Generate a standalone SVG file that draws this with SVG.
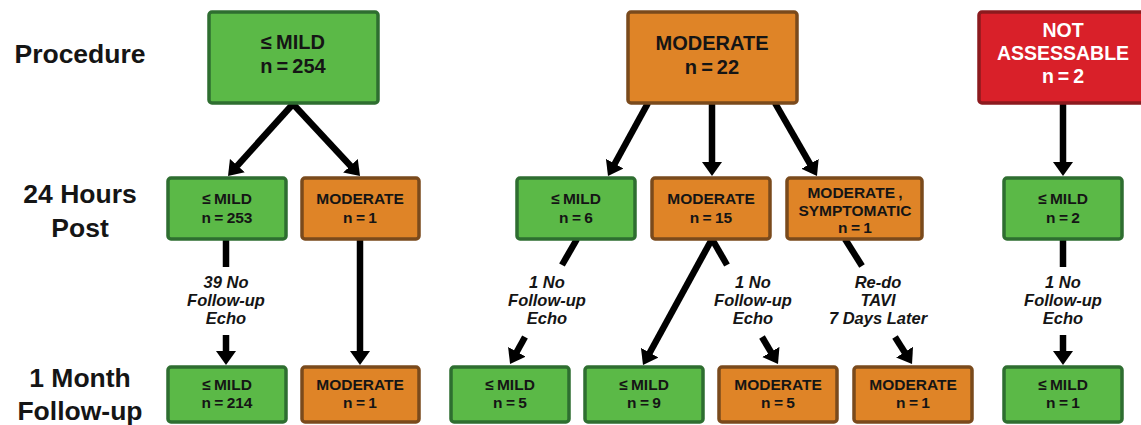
<svg xmlns="http://www.w3.org/2000/svg" width="1141" height="425" viewBox="0 0 1141 425">
<style>
.g{fill:#5BB947;stroke:#2E6E30;stroke-width:3.5}
.o{fill:#DF8427;stroke:#7A4A1C;stroke-width:3.5}
.r{fill:#D92029;stroke:#8C1A1E;stroke-width:3.5}
text{font-family:"Liberation Sans",Arial,sans-serif;font-weight:bold;fill:#151515;text-anchor:middle}
.row{font-size:26.5px}
.big{font-size:20px;word-spacing:-1.5px}
.mid{font-size:15.5px;word-spacing:-1px}
.wt{fill:#fff;font-size:19.5px;word-spacing:-1.5px}
.lab{font-size:16.5px;font-style:italic}
.c line{stroke:#000;stroke-width:6.5}
.c line.a{marker-end:url(#ah)}
</style>
<defs>
<marker id="ah" markerUnits="userSpaceOnUse" markerWidth="15" markerHeight="21" refX="4" refY="10" orient="auto" viewBox="0 0 15 21">
<path d="M0,0 L14,10 L0,20 z" fill="#000"/>
</marker>
</defs>
<rect width="1141" height="425" fill="#fff"/>

<g id="row-labels">
<text class="row" x="80" y="63">Procedure</text>
<text class="row" x="80" y="203">24 Hours</text>
<text class="row" x="80" y="237">Post</text>
<text class="row" x="80" y="387">1 Month</text>
<text class="row" x="80" y="420">Follow-up</text>
</g>

<g id="connectors" class="c">
<line class="a" x1="293" y1="104" x2="234.7" y2="168.6"/>
<line class="a" x1="293" y1="104" x2="353.2" y2="168.7"/>
<line x1="226" y1="239" x2="226" y2="267"/>
<line class="a" x1="226" y1="335" x2="226" y2="355"/>
<line class="a" x1="360" y1="239" x2="360" y2="355"/>
<line class="a" x1="648" y1="103" x2="612.8" y2="167.2"/>
<line class="a" x1="712" y1="103" x2="712" y2="166"/>
<line class="a" x1="775" y1="103" x2="812" y2="167.3"/>
<line x1="577" y1="239" x2="562" y2="265"/>
<line class="a" x1="525" y1="337" x2="514.9" y2="355.3"/>
<line class="a" x1="712" y1="239" x2="647.8" y2="356.2"/>
<line x1="712" y1="239" x2="727" y2="265"/>
<line class="a" x1="762" y1="337" x2="772.9" y2="355.4"/>
<line x1="845" y1="239" x2="862" y2="266"/>
<line class="a" x1="895" y1="337" x2="906.7" y2="355.5"/>
<line class="a" x1="1063" y1="103" x2="1063" y2="166"/>
<line x1="1063" y1="239" x2="1063" y2="267"/>
<line class="a" x1="1063" y1="335" x2="1063" y2="355"/>
</g>

<g id="edge-labels">
<text class="lab"><tspan x="226" y="288">39 No</tspan><tspan x="226" y="306">Follow-up</tspan><tspan x="226" y="324">Echo</tspan></text>
<text class="lab"><tspan x="547" y="288">1 No</tspan><tspan x="547" y="306">Follow-up</tspan><tspan x="547" y="324">Echo</tspan></text>
<text class="lab"><tspan x="753" y="288">1 No</tspan><tspan x="753" y="306">Follow-up</tspan><tspan x="753" y="324">Echo</tspan></text>
<text class="lab"><tspan x="878" y="288">Re-do</tspan><tspan x="878" y="306">TAVI</tspan><tspan x="878" y="324">7 Days Later</tspan></text>
<text class="lab"><tspan x="1063" y="288">1 No</tspan><tspan x="1063" y="306">Follow-up</tspan><tspan x="1063" y="324">Echo</tspan></text>
</g>

<g id="proc-mild">
<rect class="g" x="209" y="12" width="169" height="91" rx="3"/>
<text class="big" x="293" y="49">≤ MILD</text>
<text class="big" x="293" y="73">n = 254</text>
</g>
<g id="proc-moderate">
<rect class="o" x="628" y="12" width="169" height="91" rx="3"/>
<text class="big" x="712" y="50">MODERATE</text>
<text class="big" x="712" y="74">n = 22</text>
</g>
<g id="proc-na">
<rect class="r" x="979" y="12" width="166" height="91" rx="3"/>
<text class="wt" x="1063" y="37">NOT</text>
<text class="wt" x="1063" y="60">ASSESSABLE</text>
<text class="wt" x="1063" y="83">n = 2</text>
</g>

<g id="h24-mild-a">
<rect class="g" x="168" y="178" width="118" height="61" rx="3"/>
<text class="mid" x="227" y="204">≤ MILD</text>
<text class="mid" x="227" y="223">n = 253</text>
</g>
<g id="h24-mod-a">
<rect class="o" x="302" y="178" width="117" height="61" rx="3"/>
<text class="mid" x="360" y="204">MODERATE</text>
<text class="mid" x="360" y="223">n = 1</text>
</g>
<g id="h24-mild-b">
<rect class="g" x="517" y="178" width="118" height="61" rx="3"/>
<text class="mid" x="576" y="204">≤ MILD</text>
<text class="mid" x="576" y="223">n = 6</text>
</g>
<g id="h24-mod-b">
<rect class="o" x="652" y="178" width="118" height="61" rx="3"/>
<text class="mid" x="711" y="204">MODERATE</text>
<text class="mid" x="711" y="223">n = 15</text>
</g>
<g id="h24-mod-symp">
<rect class="o" x="787" y="178" width="135" height="61" rx="3"/>
<text class="mid" x="855" y="198">MODERATE ,</text>
<text class="mid" x="855" y="216">SYMPTOMATIC</text>
<text class="mid" x="855" y="233">n = 1</text>
</g>
<g id="h24-mild-c">
<rect class="g" x="1004" y="178" width="118" height="61" rx="3"/>
<text class="mid" x="1063" y="204">≤ MILD</text>
<text class="mid" x="1063" y="223">n = 2</text>
</g>

<g id="m1-mild-a">
<rect class="g" x="168" y="367" width="118" height="55" rx="3"/>
<text class="mid" x="227" y="390">≤ MILD</text>
<text class="mid" x="227" y="408">n = 214</text>
</g>
<g id="m1-mod-a">
<rect class="o" x="302" y="367" width="117" height="55" rx="3"/>
<text class="mid" x="360" y="390">MODERATE</text>
<text class="mid" x="360" y="408">n = 1</text>
</g>
<g id="m1-mild-b">
<rect class="g" x="451" y="367" width="118" height="55" rx="3"/>
<text class="mid" x="510" y="390">≤ MILD</text>
<text class="mid" x="510" y="408">n = 5</text>
</g>
<g id="m1-mild-c">
<rect class="g" x="585" y="367" width="118" height="55" rx="3"/>
<text class="mid" x="644" y="390">≤ MILD</text>
<text class="mid" x="644" y="408">n = 9</text>
</g>
<g id="m1-mod-b">
<rect class="o" x="719" y="367" width="118" height="55" rx="3"/>
<text class="mid" x="778" y="390">MODERATE</text>
<text class="mid" x="778" y="408">n = 5</text>
</g>
<g id="m1-mod-c">
<rect class="o" x="854" y="367" width="118" height="55" rx="3"/>
<text class="mid" x="913" y="390">MODERATE</text>
<text class="mid" x="913" y="408">n = 1</text>
</g>
<g id="m1-mild-d">
<rect class="g" x="1004" y="367" width="118" height="55" rx="3"/>
<text class="mid" x="1063" y="390">≤ MILD</text>
<text class="mid" x="1063" y="408">n = 1</text>
</g>
</svg>
